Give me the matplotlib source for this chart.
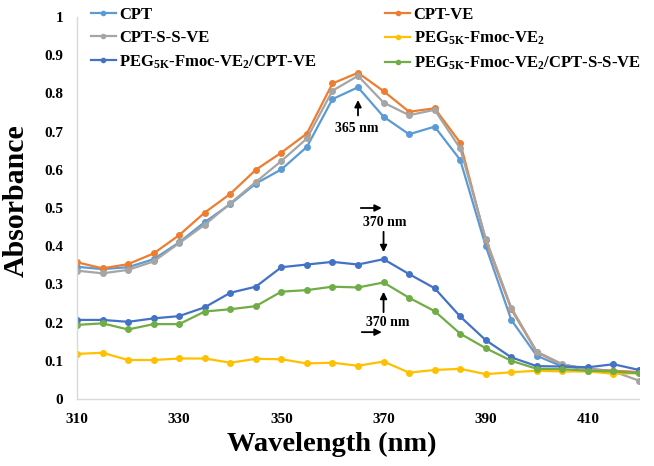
import numpy as np
import matplotlib
matplotlib.use("Agg")
import matplotlib.pyplot as plt

plt.rcParams['font.family'] = ['Liberation Serif', 'DejaVu Serif']
plt.rcParams['font.weight'] = 'bold'
plt.rcParams['mathtext.fontset'] = 'custom'
plt.rcParams['mathtext.rm'] = 'Liberation Serif:bold'
plt.rcParams['mathtext.bf'] = 'Liberation Serif:bold'
plt.rcParams['mathtext.it'] = 'Liberation Serif:bold'

# wavelength (nm), every 5 nm
wavelength = np.arange(310, 421, 5)

cpt = [0.346, 0.340, 0.345, 0.366, 0.410, 0.463, 0.510, 0.564, 0.601, 0.660, 0.785,
       0.816, 0.739, 0.693, 0.713, 0.626, 0.400, 0.207, 0.113, 0.085, 0.079, 0.073, 0.070]
cpt_ve = [0.358, 0.342, 0.353, 0.381, 0.429, 0.488, 0.537, 0.600, 0.645, 0.695, 0.826,
          0.854, 0.806, 0.752, 0.761, 0.671, 0.415, 0.235, 0.122, 0.090, 0.078, 0.074, 0.070]
cpt_ss_ve = [0.336, 0.329, 0.338, 0.360, 0.408, 0.456, 0.512, 0.568, 0.623, 0.682, 0.807,
             0.846, 0.776, 0.743, 0.757, 0.656, 0.420, 0.239, 0.124, 0.091, 0.078, 0.072, 0.048]
peg = [0.118, 0.121, 0.102, 0.102, 0.106, 0.106, 0.095, 0.105, 0.104, 0.093, 0.095,
       0.087, 0.098, 0.069, 0.076, 0.079, 0.065, 0.070, 0.074, 0.072, 0.072, 0.066, 0.068]
peg_cpt_ve = [0.207, 0.207, 0.202, 0.211, 0.217, 0.240, 0.278, 0.294, 0.345, 0.352, 0.359,
              0.352, 0.366, 0.327, 0.290, 0.216, 0.154, 0.109, 0.086, 0.085, 0.083, 0.091, 0.076]
peg_cpt_ss_ve = [0.194, 0.198, 0.182, 0.196, 0.196, 0.229, 0.235, 0.243, 0.281, 0.285, 0.294,
                 0.292, 0.305, 0.265, 0.230, 0.171, 0.133, 0.100, 0.079, 0.078, 0.074, 0.072, 0.067]

labels = ['CPT', 'CPT-VE', 'CPT-S-S-VE', r'PEG$_{5K}$-Fmoc-VE$_{2}$',
          r'PEG$_{5K}$-Fmoc-VE$_{2}$/CPT-VE', r'PEG$_{5K}$-Fmoc-VE$_{2}$/CPT-S-S-VE']
series = [cpt, cpt_ve, cpt_ss_ve, peg, peg_cpt_ve, peg_cpt_ss_ve]
colors = ['#5B9BD5', '#ED7D31', '#A5A5A5', '#FFC000', '#4472C4', '#70AD47']

fig = plt.figure(figsize=(6.54, 4.66), dpi=100)
ax = fig.add_axes([0.1177, 0.1438, 0.8594, 0.8197])

lines = {}
for lab, ys, c in zip(labels, series, colors):
    ln, = ax.plot(wavelength, ys, color=c, lw=1.6, marker='o', markersize=4, label=lab)
    lines[lab] = ln

ax.set_xlim(310, 420)
ax.set_ylim(0, 1)
ax.set_xticks([310, 330, 350, 370, 390, 410])
ax.set_yticks(np.arange(0, 1.01, 0.1))
ax.set_yticklabels(['0', '0.1', '0.2', '0.3', '0.4', '0.5', '0.6', '0.7', '0.8', '0.9', '1'])
ax.tick_params(length=0, labelsize=11, pad=10)
for lbl in ax.get_xticklabels() + ax.get_yticklabels():
    lbl.set_fontweight('bold')
for s in ['top', 'right']:
    ax.spines[s].set_visible(False)
for s in ['left', 'bottom']:
    ax.spines[s].set_color('#d9d9d9')
    ax.spines[s].set_linewidth(1)

ax.set_xlabel('Wavelength (nm)', fontsize=20.5, fontweight='bold')
ax.set_ylabel('Absorbance', fontsize=21.5, fontweight='bold')
ax.xaxis.set_label_coords(0.454, -0.086)
ax.yaxis.set_label_coords(-0.084, 0.518)

# legend: column-wise fill, so reorder
order = [0, 2, 4, 1, 3, 5]
handles = [lines[labels[i]] for i in order]
fig.legend(handles, [labels[i] for i in order], ncol=2, loc='upper left',
           bbox_to_anchor=(0.1213, 1.011), frameon=False, fontsize=12,
           handlelength=1.5, handletextpad=0.2, columnspacing=4.12,
           labelspacing=0.44, borderpad=0.2, markerscale=0.75)

# annotations
arrow = dict(arrowstyle='-|>', color='black', lw=1.3, mutation_scale=10)
ax.annotate('', xy=(365, 0.79), xytext=(365, 0.735), arrowprops=arrow)
ax.text(364.7, 0.709, '365 nm', ha='center', va='center', fontsize=10, fontweight='bold')

ax.annotate('', xy=(370.2, 0.5), xytext=(365, 0.5), arrowprops=arrow)
ax.text(370.3, 0.463, '370 nm', ha='center', va='center', fontsize=10, fontweight='bold')
ax.annotate('', xy=(370, 0.377), xytext=(370, 0.445), arrowprops=arrow)

ax.annotate('', xy=(370, 0.288), xytext=(370, 0.22), arrowprops=arrow)
ax.text(370.8, 0.2, '370 nm', ha='center', va='center', fontsize=10, fontweight='bold')
ax.annotate('', xy=(370.2, 0.175), xytext=(365.2, 0.175), arrowprops=arrow)

fig.savefig('out.png', dpi=100)
